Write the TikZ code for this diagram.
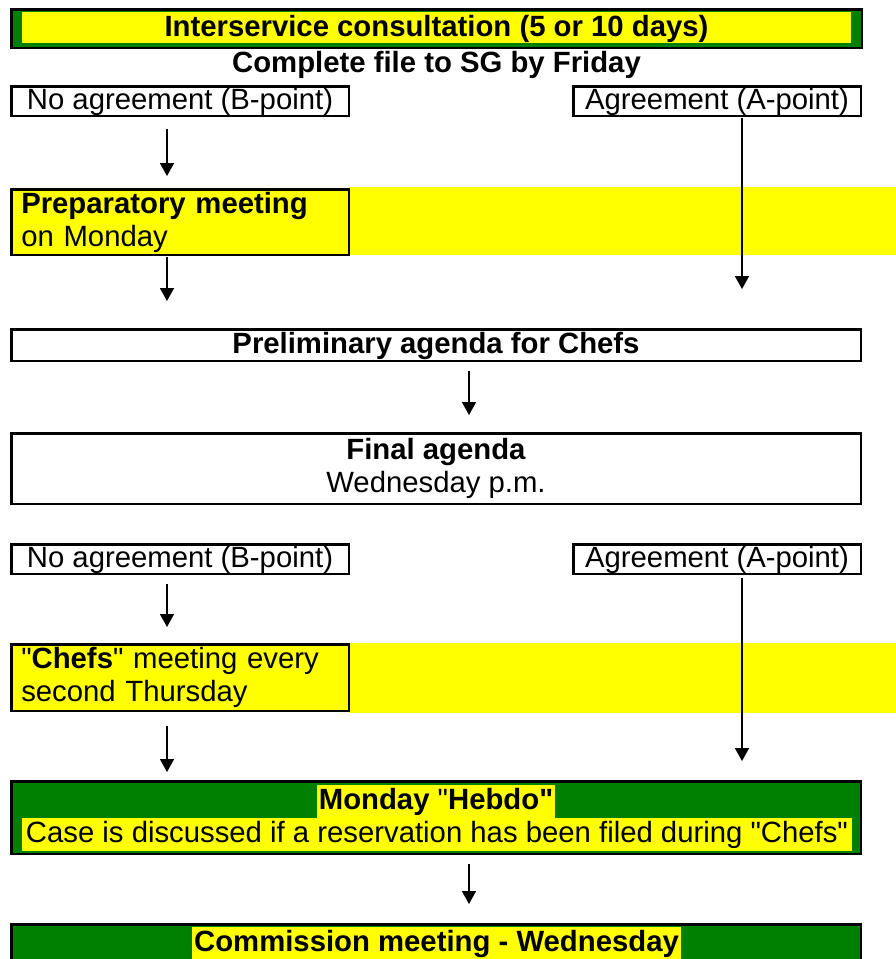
\documentclass[tikz,border=0pt]{standalone}
\usepackage{fontspec}
\setmainfont{Liberation Sans}
\usetikzlibrary{arrows.meta}
\definecolor{xlgreen}{RGB}{0,128,0}
\definecolor{xlyellow}{RGB}{255,255,0}
\newcommand{\xlfont}{\fontsize{29.3pt}{33pt}\selectfont}
\newcommand{\dq}{\textquotedbl}

\begin{document}
\begin{tikzpicture}[x=1pt, y=-1pt, >={Triangle[length=13pt,width=14pt]},
    box/.style={draw, line width=2.5pt, inner sep=0pt, font=\xlfont},
    oneline/.style={text height=21pt, text depth=5pt},
    hilite/.style={fill=xlyellow, inner xsep=2pt, inner ysep=0pt, font=\xlfont, text height=24pt, text depth=9pt},
    flow/.style={->, line width=1.6pt}]

    \useasboundingbox (0,0) rectangle (896,959);

    % yellow cell bands
    \fill[xlyellow] (349,187) rectangle (896,255);
    \fill[xlyellow] (349,643) rectangle (896,713);

    \node[box, fill=xlgreen, minimum width=850.5pt, minimum height=38.5pt] (isc) at (436.5,28.5) {};
    \node[hilite, font=\xlfont\bfseries, minimum width=829pt, minimum height=31pt, text height=21pt, text depth=4pt] (isctext) at (436.5,27.5) {Interservice consultation (5 or 10 days)};
    \node[anchor=base, font=\xlfont\bfseries] (sg) at (436.5,72) {Complete file to SG by Friday};

    \foreach \i/\y in {1/101, 2/559} {
        \node[box, oneline, minimum width=337.5pt, minimum height=29.5pt] (nob\i) at (180,\y) {No agreement (B-point)};
        \node[box, oneline, minimum width=287.5pt, minimum height=29.5pt] (agr\i) at (717,\y) {Agreement (A-point)};
    }

    \node[box, fill=xlyellow, minimum width=337.5pt, minimum height=65.5pt, text width=317.5pt, align=left] (prep) at (180,222) {\textbf{Preparatory meeting}\\on Monday};
    \node[box, oneline, font=\xlfont\bfseries, minimum width=849.5pt, minimum height=31.5pt] (prelim) at (436,345) {Preliminary agenda for Chefs};
    \node[box, align=center, minimum width=849.5pt, minimum height=70.5pt] (final) at (436,468.5) {\textbf{Final agenda}\\Wednesday p.m.};
    \node[box, fill=xlyellow, minimum width=337.5pt, minimum height=66.5pt, text width=317.5pt, align=left] (chefs) at (180,677.5) {\dq\textbf{Chefs}\dq{} meeting every\\second Thursday};

    \node[box, fill=xlgreen, minimum width=849.5pt, minimum height=72.5pt] (hebdo) at (436,817.5) {};
    \node[hilite] (hebdoa) at (436,801.5) {\textbf{Monday} \dq\textbf{Hebdo\dq}};
    \node[hilite, minimum width=830pt] (hebdob) at (437,834.5) {Case is discussed if a reservation has been filed during \dq Chefs\dq};

    \node[box, fill=xlgreen, minimum width=849.5pt, minimum height=70pt] (comm) at (436,959.25) {};
    \node[hilite, font=\xlfont\bfseries] (commtext) at (436.5,943.5) {Commission meeting - Wednesday};

    % arrow columns
    \coordinate (lx) at (167,0);
    \coordinate (mx) at (469,0);
    \coordinate (rx) at (742,0);

    \draw[flow, shorten <=12pt, shorten >=12pt] (nob1.south -| lx) -- (prep.north -| lx);
    \draw[flow, shorten <=1pt, shorten >=39pt] (agr1.south -| rx) -- (prelim.north -| rx);
    \draw[flow, shorten <=1pt, shorten >=27pt] (prep.south -| lx) -- (prelim.north -| lx);
    \draw[flow, shorten <=9pt, shorten >=17pt] (prelim.south -| mx) -- (final.north -| mx);
    \draw[flow, shorten <=9pt, shorten >=16pt] (nob2.south -| lx) -- (chefs.north -| lx);
    \draw[flow, shorten <=3pt, shorten >=19pt] (agr2.south -| rx) -- (hebdo.north -| rx);
    \draw[flow, shorten <=14pt, shorten >=8pt] (chefs.south -| lx) -- (hebdo.north -| lx);
    \draw[flow, shorten <=9pt, shorten >=19pt] (hebdo.south -| mx) -- (comm.north -| mx);

\end{tikzpicture}
\end{document}
